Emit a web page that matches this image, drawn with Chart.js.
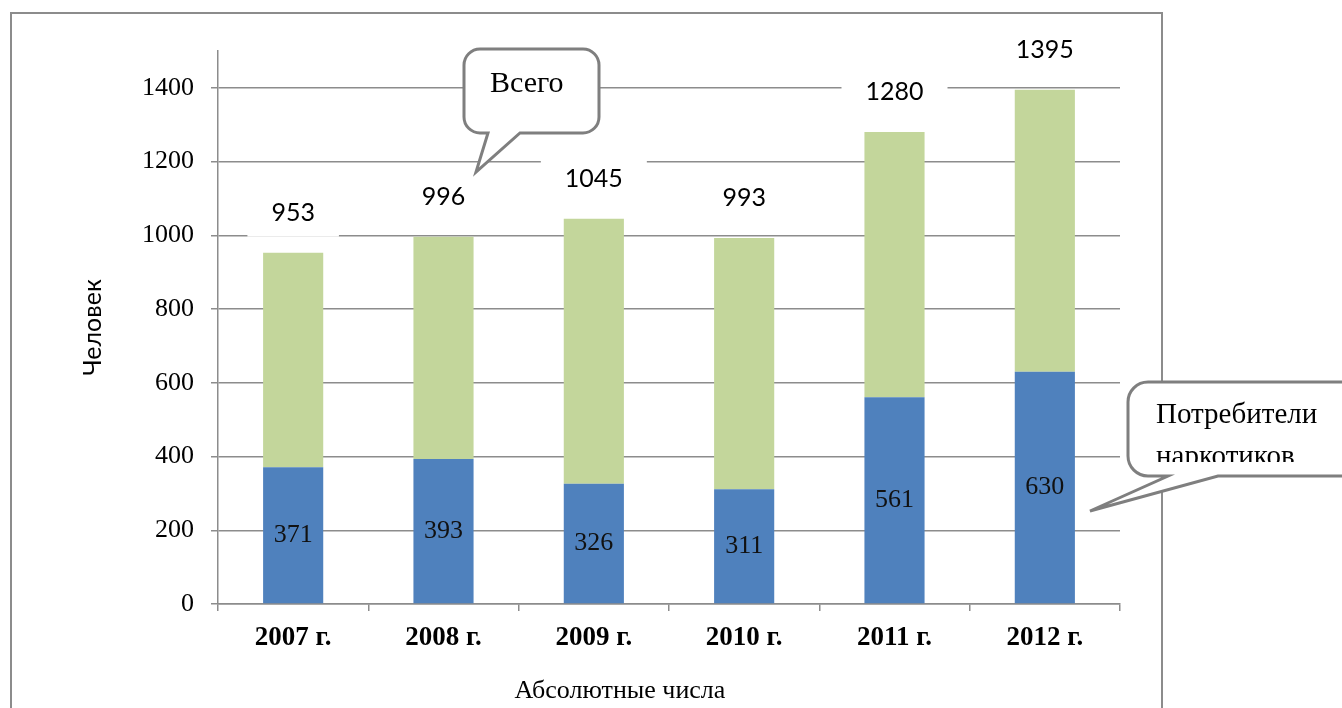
<!DOCTYPE html>
<html>
<head>
<meta charset="utf-8">
<script src="https://cdn.jsdelivr.net/npm/chart.js@4.4.1/dist/chart.umd.min.js"></script>
<style>
  html, body { margin: 0; padding: 0; background: #fff; }
</style>
</head>
<body>
<canvas id="chart" width="1342" height="708"></canvas>
<script>
// Data
const years = ['2007 г.', '2008 г.', '2009 г.', '2010 г.', '2011 г.', '2012 г.'];
const drugUsers = [371, 393, 326, 311, 561, 630];
const otherPart = [582, 603, 719, 682, 719, 765];
const totals = [953, 996, 1045, 993, 1280, 1395];
const yTickValues = [0, 200, 400, 600, 800, 1000, 1200, 1400];

const GRAY = '#8c8c8c';
const SERIF = '"Liberation Serif", "Times New Roman", serif';
const SANS = 'Lato, "Open Sans", sans-serif';

/**
 * Outer frame round the chart
 */
const framePlugin = {
    id: 'frame',
    beforeDraw(chart) {
        const ctx = chart.ctx;
        ctx.save();
        ctx.fillStyle = '#fff';
        ctx.fillRect(0, 0, chart.width, chart.height);
        ctx.strokeStyle = GRAY;
        ctx.lineWidth = 2;
        ctx.strokeRect(11, 13, 1151, 760);
        ctx.restore();
    }
};

/**
 * Value labels: inside the blue part and totals over the stacks
 */
const labelPlugin = {
    id: 'valueLabels',
    afterDatasetsDraw(chart) {
        const ctx = chart.ctx;
        const yScale = chart.scales.y;
        const blue = chart.getDatasetMeta(0).data;
        ctx.save();
        ctx.textAlign = 'center';
        ctx.textBaseline = 'middle';

        // numbers inside the blue bars
        ctx.font = '26px ' + SERIF;
        ctx.fillStyle = '#111';
        blue.forEach((bar, i) => {
            ctx.fillText(String(drugUsers[i]), bar.x, (bar.y + bar.base) / 2);
        });

        // totals with a white box behind them
        ctx.font = '25px ' + SANS;
        totals.forEach((total, i) => {
            const x = blue[i].x;
            const y = yScale.getPixelForValue(total) - 40;
            const w = ctx.measureText(String(total)).width + 48;
            ctx.fillStyle = '#fff';
            ctx.fillRect(x - w / 2, y - 24, w, 48);
            ctx.fillStyle = '#000';
            ctx.fillText(String(total), x, y);
        });
        ctx.restore();
    }
};

// speech bubble with a tail on the bottom edge
function bubble(ctx, x, y, w, h, r, baseL, baseR, tipX, tipY) {
    const b = y + h;
    ctx.beginPath();
    ctx.moveTo(x + r, y);
    ctx.lineTo(x + w - r, y);
    ctx.arcTo(x + w, y, x + w, y + r, r);
    ctx.lineTo(x + w, b - r);
    ctx.arcTo(x + w, b, x + w - r, b, r);
    ctx.lineTo(baseR, b);
    ctx.lineTo(tipX, tipY);
    ctx.lineTo(baseL, b);
    ctx.lineTo(x + r, b);
    ctx.arcTo(x, b, x, b - r, r);
    ctx.lineTo(x, y + r);
    ctx.arcTo(x, y, x + r, y, r);
    ctx.closePath();
    ctx.fillStyle = '#fff';
    ctx.fill();
    ctx.strokeStyle = '#7f7f7f';
    ctx.lineWidth = 3;
    ctx.stroke();
}

const calloutPlugin = {
    id: 'callouts',
    afterDraw(chart) {
        const ctx = chart.ctx;
        ctx.save();
        ctx.lineJoin = 'miter';

        // x axis title, set left of the plot centre as in the source
        ctx.font = '26px ' + SERIF;
        ctx.fillStyle = '#000';
        ctx.textAlign = 'center';
        ctx.textBaseline = 'alphabetic';
        ctx.fillText('Абсолютные числа', 620, 698);

        // "Всего"
        bubble(ctx, 464, 49, 135, 84, 16, 488, 520, 476, 172);
        ctx.font = '30px ' + SERIF;
        ctx.fillStyle = '#000';
        ctx.textAlign = 'left';
        ctx.fillText('Всего', 490, 92);

        // "Потребители наркотиков"
        bubble(ctx, 1128, 382, 260, 94, 20, 1168, 1218, 1090, 511);
        ctx.save();
        ctx.beginPath();
        ctx.rect(1130, 384, 220, 78);
        ctx.clip();
        ctx.font = '29px ' + SERIF;
        ctx.fillStyle = '#000';
        ctx.fillText('Потребители', 1156, 423);
        ctx.fillText('наркотиков', 1156, 465);
        ctx.restore();

        ctx.restore();
    }
};

new Chart(document.getElementById('chart'), {
    type: 'bar',
    data: {
        labels: years,
        datasets: [
            {
                label: 'Потребители наркотиков',
                data: drugUsers,
                backgroundColor: '#4f81bd',
                borderWidth: 0
            },
            {
                label: 'Прочие',
                data: otherPart,
                backgroundColor: '#c3d69b',
                borderWidth: 0
            }
        ]
    },
    options: {
        responsive: false,
        animation: false,
        layout: {
            padding: { left: 0, right: 222, top: 51, bottom: 0 }
        },
        plugins: {
            legend: { display: false },
            tooltip: { enabled: false }
        },
        datasets: {
            bar: {
                categoryPercentage: 0.8,
                barPercentage: 0.5
            }
        },
        scales: {
            x: {
                stacked: true,
                afterFit: function(scale) { scale.height = 104; },
                grid: {
                    display: true,
                    drawOnChartArea: false,
                    drawTicks: true,
                    tickLength: 7,
                    color: GRAY,
                    lineWidth: 1.5
                },
                border: { display: true, color: GRAY, width: 1.5 },
                ticks: {
                    color: '#000',
                    padding: 11,
                    font: { family: SERIF, size: 27, weight: 'bold' }
                }
            },
            y: {
                stacked: true,
                min: 0,
                max: 1500,
                afterFit: function(scale) { scale.width = 218; },
                afterBuildTicks: function(scale) {
                    scale.ticks = yTickValues.map(v => ({ value: v }));
                },
                grid: {
                    color: GRAY,
                    lineWidth: 1.5,
                    tickLength: 7
                },
                border: { display: true, color: GRAY, width: 1.5 },
                ticks: {
                    color: '#000',
                    padding: 17,
                    font: { family: SERIF, size: 26 },
                    callback: function(value) { return String(value); }
                },
                title: {
                    display: true,
                    text: 'Человек',
                    color: '#000',
                    font: { family: SANS, size: 25 },
                    padding: { top: 78, bottom: 0 }
                }
            }
        }
    },
    plugins: [framePlugin, labelPlugin, calloutPlugin]
});
</script>
</body>
</html>
